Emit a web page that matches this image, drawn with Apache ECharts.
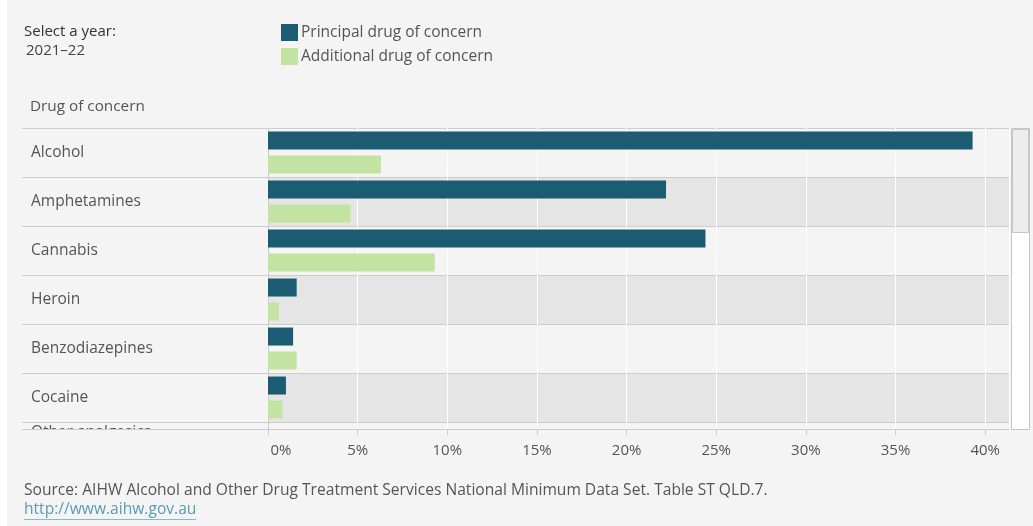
<!DOCTYPE html>
<html>
<head>
<meta charset="utf-8">
<script src="https://cdn.jsdelivr.net/npm/echarts@6/dist/echarts.min.js"></script>
<style>
html,body{margin:0;padding:0;background:#f4f4f4;}
#c{width:1033px;height:526px;}
</style>
</head>
<body>
<div id="c"></div>
<script>
const categories = ['Alcohol','Amphetamines','Cannabis','Heroin','Benzodiazepines','Cocaine','Other analgesics'];
const principal = [39.3, 22.2, 24.4, 1.6, 1.4, 1.0, null];
const additional = [6.3, 4.6, 9.3, 0.6, 1.6, 0.8, null];
const xTicks = [0,5,10,15,20,25,30,35,40];
const seriesNames = ['Principal drug of concern','Additional drug of concern'];

const FONT = '"Open Sans", "DejaVu Sans", sans-serif';
const DARK = '#1b5c72';
const LIGHT = '#c3e3a2';
const LINE = '#cdcdcd';
const XMAX = 41.33;
const lastIdx = categories.length - 1;

const chart = echarts.init(document.getElementById('c'), null, {renderer:'canvas'});

chart.setOption({
  backgroundColor:'#f4f4f4',
  animation:false,
  textStyle:{fontFamily:FONT},
  legend:{
    orient:'vertical', left:276, top:19, itemWidth:17, itemHeight:17, itemGap:7,
    icon:'rect', data:seriesNames,
    textStyle:{fontFamily:FONT, fontSize:15.5, color:'#555', padding:[0,0,0,-2], lineHeight:17}
  },
  grid:[
    {left:268, right:24, top:128, height:343, containLabel:false, outerBoundsMode:'none'},
    {left:268, right:24, top:428, height:1, containLabel:false, outerBoundsMode:'none'}
  ],
  xAxis:[
    {gridIndex:0, type:'value', min:0, max:XMAX, interval:5,
     axisLine:{show:false}, axisTick:{show:false}, axisLabel:{show:false},
     splitLine:{show:true, lineStyle:{color:'#ffffff', width:1}}},
    {gridIndex:1, type:'value', min:0, max:XMAX, interval:5, position:'bottom', z:200,
     axisLine:{show:true, lineStyle:{color:LINE}},
     axisTick:{show:true, length:6, lineStyle:{color:LINE}},
     splitLine:{show:false},
     axisLabel:{show:true, margin:14, fontFamily:FONT, fontSize:15, color:'#555',
       showMaxLabel:false,
       formatter:v=> v === 0 ? '{z|0%}' : (xTicks.indexOf(v) >= 0 ? v+'%' : ''),
       rich:{z:{fontFamily:FONT, fontSize:15, color:'#555', padding:[0,0,0,26]}}}}
  ],
  yAxis:[
    {gridIndex:0, type:'category', inverse:true, data:categories,
     axisLine:{show:true, lineStyle:{color:LINE}},
     axisTick:{show:true, length:246, lineStyle:{color:LINE}},
     axisLabel:{align:'left', margin:237, fontFamily:FONT, fontSize:15.5, color:'#555',
       formatter:(v,i)=> i === lastIdx ? '' : v},
     splitLine:{show:true, lineStyle:{color:LINE}},
     splitArea:{show:true, areaStyle:{color:['#f4f4f4','#e5e5e5']}}},
    {gridIndex:1, type:'value', show:false}
  ],
  series:[
    {name:seriesNames[0], type:'bar', xAxisIndex:0, yAxisIndex:0, data:principal,
     barWidth:18, barGap:'33%', itemStyle:{color:DARK}},
    {name:seriesNames[1], type:'bar', xAxisIndex:0, yAxisIndex:0, data:additional,
     barWidth:18, barGap:'33%', itemStyle:{color:LIGHT}}
  ],
  graphic:[
    {type:'text', z:50, left:31, top:425, style:{text:categories[lastIdx], font:'15.5px '+FONT, fill:'#555'}},
    {type:'rect', z:100, shape:{x:0, y:430, width:1033, height:96}, style:{fill:'#f4f4f4'}},
    {type:'line', z:210, shape:{x1:22, y1:429.5, x2:268, y2:429.5}, style:{stroke:LINE, lineWidth:1}},
    {type:'rect', z:210, shape:{x:0, y:0, width:7, height:526}, style:{fill:'#ffffff'}},
    {type:'text', z:210, left:24, top:24, style:{text:'Select a year:', font:'15px '+FONT, fill:'#333'}},
    {type:'text', z:210, left:26, top:43, style:{text:'2021–22', font:'15px '+FONT, fill:'#444'}},
    {type:'text', z:210, left:30, top:99, style:{text:'Drug of concern', font:'15.3px '+FONT, fill:'#555'}},
    {type:'rect', z:210, shape:{x:1011.5, y:128.5, width:18, height:301}, style:{fill:'#ffffff', stroke:'#c6c6c6', lineWidth:1}},
    {type:'rect', z:211, shape:{x:1012.5, y:129.5, width:16, height:103}, style:{fill:'#ededed', stroke:'#c6c6c6', lineWidth:1}},
    {type:'text', z:210, left:24, top:483, style:{text:'Source: AIHW Alcohol and Other Drug Treatment Services National Minimum Data Set. Table ST QLD.7.', font:'15.6px '+FONT, fill:'#555'}},
    {type:'text', z:210, left:24, top:502, style:{text:'http://www.aihw.gov.au', font:'15.6px '+FONT, fill:'#5b9bb3'}},
    {type:'line', z:210, shape:{x1:24, y1:519.5, x2:196, y2:519.5}, style:{stroke:'#8ab8c8', lineWidth:1}}
  ]
});
</script>
</body>
</html>
